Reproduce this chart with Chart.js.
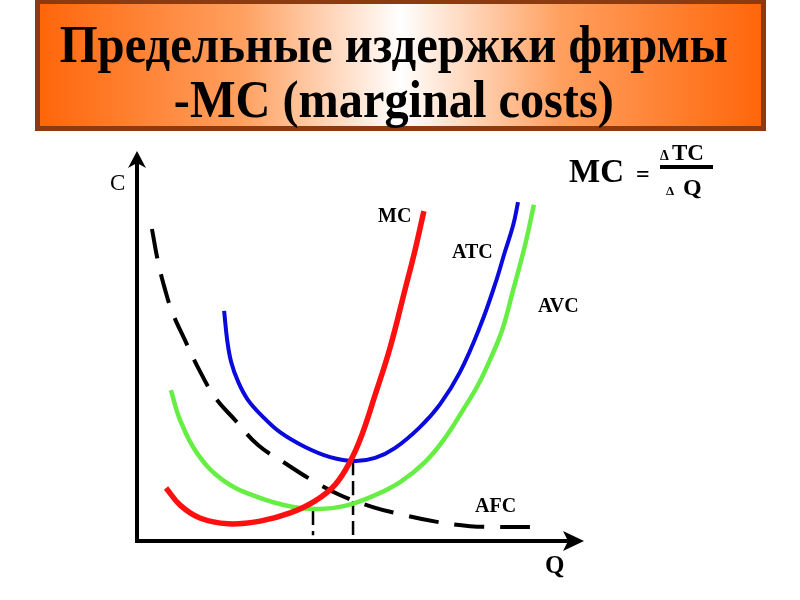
<!DOCTYPE html>
<html>
<head>
<meta charset="utf-8">
<script src="https://cdn.jsdelivr.net/npm/chart.js@4"></script>
<style>
html,body{margin:0;padding:0;background:#fff;width:800px;height:600px;overflow:hidden}
#wrap{position:relative;width:800px;height:600px}
#c{position:absolute;left:0;top:0}
#titlebox{position:absolute;left:35px;top:-1px;width:721px;height:122px;border:5px solid #8c3a10;
  background:linear-gradient(to right,#ff660a 0%,#ffa060 28%,#ffffff 50%,#ffa060 72%,#ff660a 100%)}
.tl{position:absolute;left:0;width:788px;text-align:center;font-family:"Liberation Serif","Times New Roman",serif;
  font-weight:bold;font-size:52px;line-height:52px;color:#000;white-space:nowrap}
.tl span{display:inline-block;transform-origin:50% 50%}
</style>
</head>
<body>
<div id="wrap">
  <canvas id="c" width="800" height="600"></canvas>
  <div id="titlebox"></div>
  <div class="tl" id="t1" style="top:19px"><span data-w="668">Предельные издержки фирмы</span></div>
  <div class="tl" id="t2" style="top:74px"><span data-w="440">-MC (marginal costs)</span></div>
</div>
<script>
// ---- data (Q = quantity, C = cost) ----
const mcQ  = [0.66,0.98,1.43,2.07,2.80,3.48,4.05,4.50,4.84,5.11,5.41,5.75,6.09,6.32,6.52];
const mcC  = [1.36,0.92,0.59,0.44,0.51,0.72,1.03,1.44,2.03,2.72,3.74,4.95,6.44,7.46,8.46];

const atcQ = [1.98,2.05,2.14,2.30,2.52,2.84,3.25,3.82,4.39,4.95,5.41,5.86,6.43,6.89,7.34,7.80,8.14,8.36,8.55,8.66];
const atcC = [5.90,5.15,4.59,4.08,3.62,3.21,2.79,2.41,2.15,2.05,2.13,2.38,2.92,3.51,4.33,5.51,6.59,7.41,8.10,8.69];

const avcQ = [0.77,0.98,1.36,1.95,2.73,3.55,4.16,4.73,5.36,5.98,6.55,7.00,7.41,7.75,8.02,8.30,8.55,8.82,9.02];
const avcC = [3.87,3.10,2.26,1.56,1.13,0.87,0.82,0.90,1.15,1.51,2.03,2.64,3.36,4.00,4.64,5.41,6.44,7.59,8.62];

const afcQ = [0.34,0.48,0.64,0.80,1.09,1.39,1.77,2.23,2.75,3.36,3.93,4.61,5.36,5.98,6.82,7.57,8.25,9.09];
const afcC = [8.00,7.15,6.44,5.87,5.15,4.44,3.69,3.10,2.46,2.00,1.59,1.18,0.87,0.69,0.49,0.38,0.36,0.36];

const guide1Q = [4.00,4.00];
const guide1C = [0.87,0.15];
const guide2Q = [4.91,4.91];
const guide2C = [2.05,0.12];

const curveLabels = ["MC","ATC","AVC","AFC"];
const axisLabels = ["C","Q"];

// ---- fit title lines ----
document.querySelectorAll('.tl span').forEach(s=>{
  const w = s.getBoundingClientRect().width;
  const target = parseFloat(s.dataset.w);
  s.style.transform = 'scaleX(' + (target / w) + ')';
});

const pts = (xs, ys) => xs.map((x, i) => ({x: x, y: ys[i]}));

function ds(label, xs, ys, color, width, dash) {
  return {
    label: label, data: pts(xs, ys), borderColor: color, borderWidth: width,
    borderDash: dash || [], pointRadius: 0, tension: 0.4, fill: false,
    borderCapStyle: 'butt', borderJoinStyle: 'round'
  };
}

const decor = {
  id: 'decor',
  afterDatasetsDraw(chart) {
    const ctx = chart.ctx;
    const xs = chart.scales.x, ys = chart.scales.y;
    const x0 = xs.getPixelForValue(0), y0 = ys.getPixelForValue(0);
    ctx.save();
    ctx.fillStyle = '#000';
    ctx.strokeStyle = '#000';
    // axes
    ctx.lineWidth = 4;
    ctx.lineCap = 'butt';
    ctx.beginPath();
    ctx.moveTo(x0, y0 + 2);
    ctx.lineTo(x0, 162);
    ctx.moveTo(x0 - 2, y0);
    ctx.lineTo(570, y0);
    ctx.stroke();
    // y arrow
    ctx.beginPath();
    ctx.moveTo(x0, 151);
    ctx.lineTo(x0 + 9, 168);
    ctx.lineTo(x0, 163);
    ctx.lineTo(x0 - 9, 168);
    ctx.closePath();
    ctx.fill();
    // x arrow
    ctx.beginPath();
    ctx.moveTo(584, y0);
    ctx.lineTo(563, y0 - 10);
    ctx.lineTo(568, y0);
    ctx.lineTo(563, y0 + 10);
    ctx.closePath();
    ctx.fill();

    // axis labels
    ctx.textAlign = 'left';
    ctx.textBaseline = 'alphabetic';
    ctx.font = '23px "Liberation Serif", serif';
    ctx.fillText(axisLabels[0], 110, 190);
    ctx.font = 'bold 25px "Liberation Serif", serif';
    ctx.fillText(axisLabels[1], 545, 573);

    // curve labels
    ctx.font = 'bold 20px "Liberation Serif", serif';
    ctx.fillText(curveLabels[0], 378, 222);
    ctx.fillText(curveLabels[1], 452, 258);
    ctx.fillText(curveLabels[2], 538, 312);
    ctx.fillText(curveLabels[3], 475, 512);

    // formula MC = ΔTC / ΔQ
    ctx.font = 'bold 33px "Liberation Serif", serif';
    ctx.fillText('MC', 569, 182);
    ctx.font = 'bold 24px "Liberation Serif", serif';
    ctx.fillText('=', 636, 182);
    ctx.font = 'bold 14px "Liberation Serif", serif';
    ctx.fillText('Δ', 660, 160);
    ctx.font = 'bold 23px "Liberation Serif", serif';
    ctx.fillText('TC', 672, 160);
    ctx.fillRect(660, 165, 53, 4);
    ctx.font = 'bold 13px "Liberation Serif", serif';
    ctx.fillText('Δ', 666, 195);
    ctx.font = 'bold 24px "Liberation Serif", serif';
    ctx.fillText('Q', 683, 195);
    ctx.restore();
  }
};

new Chart(document.getElementById('c'), {
  type: 'line',
  data: {
    datasets: [
      ds('MC',  mcQ,  mcC,  '#ff1010', 5.5),
      ds('ATC', atcQ, atcC, '#0a0adf', 4),
      ds('AVC', avcQ, avcC, '#66ee44', 4.5),
      ds('AFC', afcQ, afcC, '#000000', 4, [30, 16]),
      ds('g1', guide1Q, guide1C, '#000000', 2.5, [18, 6]),
      ds('g2', guide2Q, guide2C, '#000000', 2.5, [14, 6])
    ]
  },
  options: {
    responsive: false,
    animation: false,
    devicePixelRatio: 1,
    layout: { padding: { left: 137, right: 223, top: 151, bottom: 59 } },
    scales: {
      x: { type: 'linear', min: 0, max: 10, display: false },
      y: { type: 'linear', min: 0, max: 10, display: false }
    },
    plugins: { legend: { display: false }, tooltip: { enabled: false }, title: { display: false } },
    clip: false
  },
  plugins: [decor]
});
</script>
</body>
</html>
